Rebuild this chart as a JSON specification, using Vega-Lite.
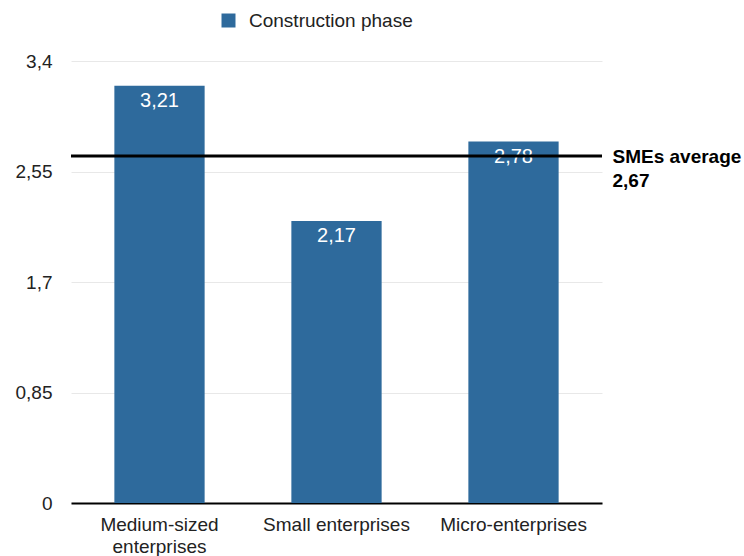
{
  "$schema": "https://vega.github.io/schema/vega-lite/v6.json",
  "autosize": {"type": "none"},
  "width": 531,
  "height": 442,
  "padding": {"left": 71, "top": 61, "right": 142, "bottom": 53},
  "background": "white",
  "config": {
    "font": "Liberation Sans",
    "view": {"stroke": null},
    "locale": {"number": {"decimal": ",", "thousands": ".", "grouping": [3], "currency": ["", " €"]}}
  },
  "datasets": {
    "bars": [
      {"category": "Medium-sized enterprises", "value": 3.21, "series": "Construction phase"},
      {"category": "Small enterprises", "value": 2.17, "series": "Construction phase"},
      {"category": "Micro-enterprises", "value": 2.78, "series": "Construction phase"}
    ],
    "avg": [
      {"avg": 2.67, "anchor": "Micro-enterprises", "label": "SMEs average"}
    ]
  },
  "layer": [
    {
      "data": {"name": "bars"},
      "mark": {"type": "bar"},
      "encoding": {
        "x": {
          "field": "category", "type": "nominal", "sort": null, "title": null,
          "scale": {"paddingInner": 0.49, "paddingOuter": 0.245},
          "axis": {
            "labelAngle": 0, "labelFontSize": 19, "labelColor": "#222", "ticks": false,
            "domainColor": "#000", "domainWidth": 2, "labelPadding": 12, "labelLineHeight": 22,
            "labelExpr": "datum.label == 'Medium-sized enterprises' ? ['Medium-sized', 'enterprises'] : datum.label"
          }
        },
        "y": {
          "field": "value", "type": "quantitative", "title": null,
          "scale": {"domain": [0, 3.4], "nice": false},
          "axis": {
            "values": [0, 0.85, 1.7, 2.55, 3.4], "format": ".2~f", "domain": false, "ticks": false,
            "labelFontSize": 19, "labelColor": "#222", "labelPadding": 19,
            "gridColor": "#e8e8e8", "gridWidth": 1
          }
        },
        "color": {
          "field": "series", "type": "nominal",
          "scale": {"range": ["#2E6A9C"]},
          "legend": {
            "title": null, "orient": "none", "legendX": 148, "legendY": -50,
            "symbolType": "square", "symbolSize": 196, "symbolStrokeWidth": 0,
            "labelFontSize": 19, "labelColor": "#222", "labelOffset": 11, "labelLimit": 400
          }
        }
      }
    },
    {
      "data": {"name": "bars"},
      "mark": {"type": "text", "color": "white", "fontSize": 20, "baseline": "middle", "dy": 15},
      "encoding": {
        "x": {"field": "category", "type": "nominal", "sort": null},
        "y": {"field": "value", "type": "quantitative"},
        "text": {"field": "value", "type": "quantitative", "format": ".2f"}
      }
    },
    {
      "data": {"name": "avg"},
      "mark": {"type": "rule", "color": "#000", "strokeWidth": 3},
      "encoding": {
        "y": {"field": "avg", "type": "quantitative"}
      }
    },
    {
      "data": {"name": "avg"},
      "mark": {"type": "text", "align": "left", "baseline": "middle", "fontSize": 19, "fontWeight": "bold", "color": "#000", "dx": 99, "dy": 1, "lineHeight": 24},
      "encoding": {
        "x": {"field": "anchor", "type": "nominal", "sort": null},
        "y": {"field": "avg", "type": "quantitative"},
        "text": {"value": ["SMEs average", "2,67"]}
      }
    }
  ]
}
